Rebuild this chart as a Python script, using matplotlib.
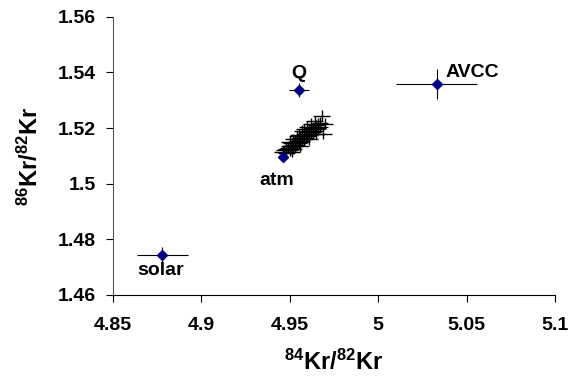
import matplotlib
matplotlib.use('Agg')
import matplotlib.pyplot as plt
from matplotlib.ticker import FormatStrFormatter

plt.rcParams['font.family'] = ['Liberation Sans', 'DejaVu Sans']
plt.rcParams['font.weight'] = 'bold'
plt.rcParams['mathtext.fontset'] = 'custom'
plt.rcParams['mathtext.rm'] = 'Liberation Sans:bold'
plt.rcParams['mathtext.bf'] = 'Liberation Sans:bold'
plt.rcParams['mathtext.default'] = 'bf'

# reference compositions (84Kr/82Kr, 86Kr/82Kr, errors)
ref_names = ['solar', 'atm', 'Q', 'AVCC']
ref_x = [4.878, 4.946, 4.955, 5.033]
ref_y = [1.4744, 1.5096, 1.5337, 1.536]
ref_xerr = [0.0145, 0.002, 0.0057, 0.023]
ref_yerr = [0.003, 0.001, 0.0025, 0.0054]

# measured samples
sample_x = [4.946, 4.947, 4.948, 4.948, 4.949, 4.950, 4.950, 4.951, 4.951, 4.952,
            4.952, 4.953, 4.953, 4.954, 4.954, 4.955, 4.955, 4.956, 4.956, 4.957,
            4.957, 4.958, 4.958, 4.959, 4.959, 4.960, 4.960, 4.961, 4.961, 4.962,
            4.962, 4.963, 4.963, 4.964, 4.964, 4.965, 4.965, 4.966, 4.966, 4.967,
            4.968, 4.969, 4.967, 4.964, 4.960, 4.957, 4.955, 4.952, 4.970,
            4.950, 4.954, 4.958, 4.962, 4.951, 4.956, 4.961, 4.965]
sample_y = [1.5115, 1.512, 1.511, 1.5125, 1.513, 1.512, 1.5135, 1.513, 1.5145, 1.514,
            1.5125, 1.515, 1.5135, 1.5155, 1.514, 1.516, 1.5145, 1.5165, 1.515, 1.517,
            1.5155, 1.5175, 1.516, 1.518, 1.5165, 1.5185, 1.517, 1.519, 1.5175, 1.5195,
            1.518, 1.520, 1.5185, 1.5205, 1.519, 1.521, 1.5195, 1.5215, 1.520, 1.522,
            1.5245, 1.518, 1.5205, 1.5225, 1.5205, 1.519, 1.5175, 1.516, 1.5215,
            1.5150, 1.5170, 1.5195, 1.5215, 1.5115, 1.5135, 1.5160, 1.5180]
sample_xerr = 0.0047
sample_yerr = 0.002

fig = plt.figure(figsize=(5.7, 3.83), dpi=100)
ax = fig.add_axes([0.198, 0.230, 0.776, 0.726])

ax.errorbar(sample_x, sample_y, xerr=sample_xerr, yerr=sample_yerr, fmt='none',
            ecolor='black', elinewidth=1.0, capsize=0)
ax.errorbar(ref_x, ref_y, xerr=ref_xerr, yerr=ref_yerr, fmt='D', color='#000080',
            markersize=5.5, ecolor='black', elinewidth=0.8, capsize=0, zorder=3)

# labels next to reference points (offset in data units, alignment)
offsets = {'solar': (-0.0141, -0.0072, 'left'), 'atm': (-0.013, -0.010, 'left'),
           'Q': (0.0, 0.0043, 'center'), 'AVCC': (0.005, 0.0022, 'left')}
for name, x, y in zip(ref_names, ref_x, ref_y):
    dx, dy, ha = offsets[name]
    ax.text(x + dx, y + dy, name, fontsize=14, fontweight='bold',
            va='baseline', ha=ha)

ax.set_xlim(4.85, 5.1)
ax.set_ylim(1.46, 1.56)
ax.set_xticks([4.85, 4.9, 4.95, 5.0, 5.05, 5.1])
ax.set_yticks([1.46, 1.48, 1.5, 1.52, 1.54, 1.56])
ax.xaxis.set_major_formatter(FormatStrFormatter('%g'))
ax.yaxis.set_major_formatter(FormatStrFormatter('%g'))
ax.tick_params(direction='out', length=5, width=0.8, labelsize=14)
ax.tick_params(axis='x', pad=11)
ax.tick_params(axis='y', pad=7)
for lbl in ax.get_xticklabels() + ax.get_yticklabels():
    lbl.set_fontweight('bold')
ax.spines['top'].set_visible(False)
ax.spines['right'].set_visible(False)
ax.spines['left'].set_color('#555555')

ax.set_xlabel(r'$^{84}$Kr/$^{82}$Kr', fontsize=17, fontweight='bold', labelpad=11)
ax.set_ylabel(r'$^{86}$Kr/$^{82}$Kr', fontsize=17, fontweight='bold', labelpad=11)

fig.savefig('out.png', dpi=100)
